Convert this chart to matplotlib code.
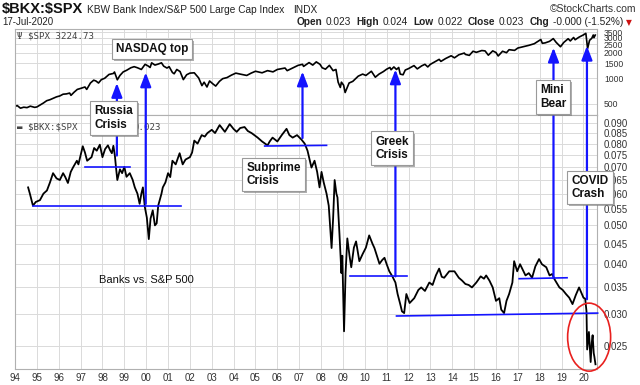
import matplotlib
matplotlib.use("Agg")
import matplotlib.pyplot as plt
import matplotlib.patheffects as pe
import matplotlib.transforms as mtransforms
from matplotlib.patches import ConnectionPatch, Ellipse
from matplotlib.text import Annotation
from matplotlib.ticker import FixedLocator, FixedFormatter, NullLocator

plt.rcParams['font.family'] = ['Liberation Sans', 'DejaVu Sans']
plt.rcParams['text.parse_math'] = False

# S&P 500 (год, значение)
spx_t = [1994.00, 1994.10, 1994.25, 1994.40, 1994.55, 1994.70, 1994.90, 1995.00, 1995.15, 1995.30,
         1995.45, 1995.60, 1995.75, 1995.90, 1996.05, 1996.20, 1996.35, 1996.50, 1996.56, 1996.70,
         1996.85, 1997.00, 1997.20, 1997.28, 1997.45, 1997.60, 1997.70, 1997.82, 1997.95, 1998.10,
         1998.30, 1998.50, 1998.55, 1998.68, 1998.80, 1998.95, 1999.10, 1999.30, 1999.45, 1999.60,
         1999.78, 1999.95, 2000.08, 2000.18, 2000.25, 2000.40, 2000.55, 2000.70, 2000.80, 2000.95,
         2001.05, 2001.20, 2001.28, 2001.40, 2001.55, 2001.70, 2001.85, 2002.00, 2002.20, 2002.40,
         2002.55, 2002.65, 2002.78, 2002.90, 2003.05, 2003.18, 2003.35, 2003.50, 2003.70, 2003.90,
         2004.10, 2004.30, 2004.60, 2004.80, 2005.00, 2005.30, 2005.55, 2005.80, 2006.00, 2006.35,
         2006.45, 2006.70, 2006.95, 2007.15, 2007.20, 2007.45, 2007.62, 2007.78, 2007.95, 2008.05,
         2008.20, 2008.38, 2008.55, 2008.68, 2008.78, 2008.88, 2008.93, 2009.03, 2009.10, 2009.28,
         2009.45, 2009.70, 2009.90, 2010.05, 2010.30, 2010.48, 2010.65, 2010.85, 2011.00, 2011.15,
         2011.20, 2011.33, 2011.45, 2011.55, 2011.62, 2011.75, 2011.85, 2012.00, 2012.25, 2012.40,
         2012.60, 2012.75, 2012.88, 2013.00, 2013.20, 2013.40, 2013.48, 2013.70, 2013.95, 2014.10,
         2014.30, 2014.55, 2014.60, 2014.78, 2014.95, 2015.10, 2015.35, 2015.50, 2015.65, 2015.85,
         2016.00, 2016.10, 2016.30, 2016.48, 2016.60, 2016.85, 2017.00, 2017.25, 2017.50, 2017.75,
         2018.05, 2018.12, 2018.25, 2018.45, 2018.62, 2018.75, 2018.95, 2019.10, 2019.30, 2019.40,
         2019.55, 2019.62, 2019.80, 2020.00, 2020.11, 2020.19, 2020.28, 2020.38, 2020.45, 2020.48,
         2020.54]
spx_v = [466, 478, 445, 457, 452, 470, 455, 460, 485, 512,
         545, 560, 582, 605, 620, 650, 655, 670, 630, 685,
         740, 760, 790, 740, 880, 950, 930, 880, 965, 1000,
         1110, 1140, 1185, 960, 1080, 1190, 1240, 1330, 1370, 1330,
         1270, 1460, 1400, 1340, 1520, 1430, 1470, 1520, 1390, 1320,
         1370, 1170, 1130, 1270, 1200, 965, 1100, 1150, 1160, 1010,
         820, 900, 790, 930, 860, 810, 920, 990, 1020, 1090,
         1150, 1120, 1080, 1150, 1210, 1160, 1230, 1190, 1270, 1320,
         1230, 1320, 1420, 1460, 1380, 1530, 1430, 1560, 1460, 1330,
         1280, 1420, 1230, 1270, 900, 780, 900, 830, 680, 880,
         920, 1060, 1120, 1080, 1210, 1030, 1120, 1200, 1280, 1340,
         1260, 1360, 1270, 1340, 1120, 1100, 1250, 1300, 1410, 1290,
         1400, 1460, 1360, 1460, 1560, 1670, 1580, 1710, 1840, 1740,
         1890, 1980, 1910, 1860, 2080, 2020, 2120, 2100, 1870, 2100,
         2010, 1830, 2080, 2000, 2170, 2130, 2270, 2350, 2440, 2550,
         2860, 2580, 2610, 2720, 2930, 2650, 2350, 2640, 2920, 2750,
         3020, 2840, 3050, 3240, 3380, 2240, 2800, 2950, 3230, 3000,
         3225]

# BKX / SPX
ratio_t = [1994.60, 1994.68, 1994.82, 1994.95, 1995.14, 1995.30, 1995.46, 1995.60, 1995.74, 1995.90,
           1996.05, 1996.20, 1996.30, 1996.42, 1996.55, 1996.65, 1996.83, 1996.90, 1997.10, 1997.20,
           1997.30, 1997.50, 1997.62, 1997.74, 1997.88, 1998.00, 1998.12, 1998.25, 1998.35, 1998.43,
           1998.50, 1998.57, 1998.62, 1998.68, 1998.80, 1998.90, 1999.00, 1999.10, 1999.25, 1999.38,
           1999.48, 1999.60, 1999.70, 1999.78, 1999.85, 1999.94, 2000.03, 2000.12, 2000.20, 2000.30,
           2000.40, 2000.48, 2000.55, 2000.62, 2000.70, 2000.76, 2000.88, 2001.00, 2001.10, 2001.20,
           2001.35, 2001.53, 2001.67, 2001.80, 2002.00, 2002.10, 2002.20, 2002.35, 2002.54, 2002.68,
           2002.80, 2003.00, 2003.15, 2003.36, 2003.60, 2003.82, 2004.00, 2004.14, 2004.30, 2004.50,
           2004.65, 2004.82, 2005.10, 2005.30, 2005.55, 2005.65, 2005.78, 2006.00, 2006.20, 2006.42,
           2006.55, 2006.70, 2006.90, 2007.10, 2007.25, 2007.38, 2007.56, 2007.70, 2007.82, 2007.93,
           2008.02, 2008.12, 2008.25, 2008.35, 2008.48, 2008.55, 2008.62, 2008.70, 2008.75, 2008.84,
           2008.93, 2008.97, 2009.05, 2009.12, 2009.20, 2009.30, 2009.38, 2009.50, 2009.60, 2009.75,
           2009.90, 2010.05, 2010.20, 2010.35, 2010.44, 2010.58, 2010.67, 2010.80, 2010.90, 2011.00,
           2011.12, 2011.26, 2011.40, 2011.50, 2011.62, 2011.70, 2011.80, 2011.90, 2012.05, 2012.26,
           2012.45, 2012.58, 2012.75, 2012.95, 2013.10, 2013.25, 2013.40, 2013.52, 2013.63, 2013.86,
           2014.10, 2014.30, 2014.45, 2014.60, 2014.75, 2014.90, 2015.10, 2015.30, 2015.45, 2015.55,
           2015.70, 2015.85, 2016.00, 2016.15, 2016.24, 2016.37, 2016.48, 2016.60, 2016.75, 2016.83,
           2016.97, 2017.10, 2017.20, 2017.35, 2017.50, 2017.65, 2017.80, 2017.97, 2018.10, 2018.30,
           2018.45, 2018.57, 2018.70, 2018.90, 2019.05, 2019.20, 2019.35, 2019.50, 2019.65, 2019.80,
           2019.90, 2020.00, 2020.08, 2020.14, 2020.17, 2020.25, 2020.33, 2020.38, 2020.42, 2020.47,
           2020.50, 2020.55]
ratio_v = [0.0622, 0.0600, 0.0560, 0.0572, 0.0578, 0.0600, 0.0611, 0.0640, 0.0675, 0.0655,
           0.0649, 0.0675, 0.0660, 0.0638, 0.0680, 0.0697, 0.0725, 0.0710, 0.0788, 0.0760,
           0.0725, 0.0740, 0.0780, 0.0768, 0.0795, 0.0740, 0.0775, 0.0792, 0.0770, 0.0757,
           0.0790, 0.0745, 0.0697, 0.0649, 0.0690, 0.0675, 0.0700, 0.0661, 0.0675, 0.0650,
           0.0622, 0.0600, 0.0566, 0.0600, 0.0622, 0.0555, 0.0523, 0.0462, 0.0520, 0.0545,
           0.0500, 0.0506, 0.0560, 0.0578, 0.0600, 0.0622, 0.0640, 0.0675, 0.0660, 0.0725,
           0.0710, 0.0757, 0.0710, 0.0730, 0.0740, 0.0760, 0.0814, 0.0800, 0.0840, 0.0833,
           0.0850, 0.0866, 0.0850, 0.0890, 0.0856, 0.0895, 0.0870, 0.0856, 0.0875, 0.0880,
           0.0860, 0.0850, 0.0828, 0.0810, 0.0792, 0.0810, 0.0828, 0.0810, 0.0840, 0.0871,
           0.0840, 0.0828, 0.0840, 0.0819, 0.0800, 0.0768, 0.0697, 0.0725, 0.0680, 0.0622,
           0.0680, 0.0640, 0.0600, 0.0560, 0.0439, 0.0520, 0.0649, 0.0600, 0.0587, 0.0476,
           0.0380, 0.0420, 0.0272, 0.0380, 0.0464, 0.0420, 0.0393, 0.0440, 0.0456, 0.0407,
           0.0424, 0.0440, 0.0472, 0.0450, 0.0439, 0.0415, 0.0401, 0.0410, 0.0415, 0.0400,
           0.0384, 0.0373, 0.0360, 0.0337, 0.0318, 0.0305, 0.0302, 0.0337, 0.0320, 0.0329,
           0.0345, 0.0350, 0.0343, 0.0360, 0.0355, 0.0375, 0.0390, 0.0372, 0.0370, 0.0384,
           0.0384, 0.0370, 0.0364, 0.0357, 0.0355, 0.0350, 0.0360, 0.0373, 0.0368, 0.0375,
           0.0364, 0.0350, 0.0324, 0.0329, 0.0308, 0.0302, 0.0324, 0.0337, 0.0360, 0.0407,
           0.0384, 0.0400, 0.0390, 0.0375, 0.0380, 0.0370, 0.0395, 0.0412, 0.0400, 0.0393,
           0.0375, 0.0378, 0.0365, 0.0350, 0.0345, 0.0337, 0.0330, 0.0318, 0.0335, 0.0350,
           0.0340, 0.0330, 0.0328, 0.0305, 0.0245, 0.0271, 0.0228, 0.0255, 0.0266, 0.0240,
           0.0235, 0.0225]

spx_ticks = [500, 1000, 1500, 2000, 2500, 3000, 3500]
ratio_ticks = [0.025, 0.030, 0.035, 0.040, 0.045, 0.050, 0.055, 0.060,
               0.065, 0.070, 0.075, 0.080, 0.085, 0.090]
years = list(range(1994, 2021))
year_labels = ['%02d' % (y % 100) for y in years]

# уровни поддержки: (начало, конец, уровень в начале, уровень в конце)
supports = [
    (1994.82, 2001.58, 0.0560, 0.0560),
    (1997.20, 1999.25, 0.0700, 0.0700),
    (2005.42, 2008.25, 0.0789, 0.0792),
    (2009.30, 2011.95, 0.0373, 0.0373),
    (2011.45, 2020.65, 0.0297, 0.0302),
    (2017.06, 2019.25, 0.0368, 0.0370),
]

# события: подпись, год стрелки, BKX/SPX у основания, SPX у острия,
#          положение подписи (год, панель, значение)
events = [
    ("Russia\nCrisis", 1998.66, 0.0747, 880, 1998.52, 'lo', 0.0926),
    ("NASDAQ top", 1999.98, 0.0566, 1170, 2000.26, 'hi', 2226),
    ("Subprime\nCrisis", 2007.15, 0.0826, 1200, 2005.83, 'lo', 0.0670),
    ("Greek\nCrisis", 2011.40, 0.0373, 1270, 2011.26, 'lo', 0.0779),
    ("Mini\nBear", 2018.63, 0.0369, 2290, 2018.61, 'hi', 603),
    ("COVID\nCrash", 2020.16, 0.0327, 2410, 2020.30, 'lo', 0.0622),
]

blue = '#1414ff'
grid_c = '#dadada'
spine_c = '#b0b0b0'
W, H = 640, 385

fig = plt.figure(figsize=(W / 100, H / 100), dpi=100)
x0, x1 = 15 / W, 597 / W
ax_hi = fig.add_axes([x0, 1 - 115 / H, x1 - x0, (115 - 29) / H])
ax_lo = fig.add_axes([x0, 1 - 369 / H, x1 - x0, (369 - 115) / H])

ax_hi.plot(spx_t, spx_v, color='black', lw=1.2)
ax_hi.set_yscale('log')
ax_hi.set_ylim(370, 3800)

ax_lo.plot(ratio_t, ratio_v, color='black', lw=1.3, zorder=3)
ax_lo.set_yscale('log')
ax_lo.set_ylim(0.0219, 0.0943)

for ax, ticks, fmt in [(ax_hi, spx_ticks, '%d'), (ax_lo, ratio_ticks, '%.3f')]:
    ax.set_xlim(1994.0, 2020.62)
    ax.xaxis.set_major_locator(FixedLocator(years))
    ax.yaxis.set_major_locator(FixedLocator(ticks))
    ax.yaxis.set_major_formatter(FixedFormatter([fmt % v for v in ticks]))
    ax.yaxis.set_minor_locator(NullLocator())
    ax.xaxis.set_minor_locator(NullLocator())
    ax.yaxis.tick_right()
    ax.tick_params(axis='both', length=0, labelsize=7, labelcolor='#333333')
    ax.tick_params(axis='y', pad=5)
    ax.grid(True, color=grid_c, lw=0.7)
    ax.set_axisbelow(True)
    for s in ax.spines.values():
        s.set_color(spine_c)
        s.set_linewidth(0.8)

ax_hi.tick_params(axis='x', labelbottom=False)
ax_hi.tick_params(axis='y', labelsize=6.2)
ax_lo.xaxis.set_major_formatter(FixedFormatter(year_labels))
ax_lo.tick_params(axis='x', pad=3)

# линии поддержки
for a, b, va, vb in supports:
    ax_lo.plot([a, b], [va, vb], color=blue, lw=1.2, zorder=4, clip_on=False)

# стрелки и подписи
for label, yr, r0, s1, lx, pan, lv in events:
    con = ConnectionPatch(xyA=(yr, r0), coordsA=ax_lo.transData,
                          xyB=(yr, s1), coordsB=ax_hi.transData,
                          arrowstyle='-|>,head_length=0.6,head_width=0.23',
                          mutation_scale=14, color=blue, lw=1.6, zorder=3)
    fig.add_artist(con)
    tax = ax_lo if pan == 'lo' else ax_hi
    t = fig.text(lx, lv, label, transform=tax.transData, zorder=5,
                 ha='center', va='center', multialignment='left',
                 fontsize=8.5, fontweight='bold', color='#111111',
                 linespacing=1.15,
                 bbox=dict(boxstyle='square,pad=0.35', fc='white',
                           ec='#9a9a9a', lw=0.8))
    t.get_bbox_patch().set_path_effects([
        pe.SimplePatchShadow(offset=(1.5, -1.5), shadow_rgbFace='#7a7a7a', alpha=0.6),
        pe.Normal()])

ax_lo.text(2000.0, 0.0365, "Banks vs. S&P 500", ha='center', va='center',
           fontsize=8, color='#111111')

# обвести падение 2020 года
ell_tr = fig.dpi_scale_trans + mtransforms.ScaledTranslation(2020.26, 0.0263, ax_lo.transData)
ax_lo.add_artist(Ellipse((0, 0), 0.43, 0.68, transform=ell_tr, fill=False,
                         ec='#e8201e', lw=1.2, clip_on=False, zorder=6))

# легенды внутри панелей
ax_hi.text(0.004, 0.97, "Ψ $SPX 3224.73", transform=ax_hi.transAxes, ha='left', va='top',
           family='DejaVu Sans Mono', fontsize=6.6, color='#444444')
lg = ax_lo.text(0.004, 0.97, "▬ $BKX:$SPX", transform=ax_lo.transAxes, ha='left', va='top',
                family='DejaVu Sans Mono', fontsize=6.6, color='#444444')
ax_lo.annotate("0.023", xy=(1, 0), xycoords=lg, xytext=(40, 0), textcoords='offset points',
               ha='left', va='bottom', family='DejaVu Sans Mono', fontsize=6.6, color='#444444')

# шапка
h1 = fig.text(2 / W, 1 - 16 / H, "$BKX:$SPX", ha='left', va='bottom',
              fontsize=10.5, fontweight='bold', color='#111111')
h2 = Annotation("KBW Bank Index/S&P 500 Large Cap Index", xy=(1, 0), xycoords=h1,
                xytext=(3, 1), textcoords='offset points', ha='left', va='bottom',
                fontsize=7.3, color='#222222')
fig.add_artist(h2)
h3 = Annotation("INDX", xy=(1, 0), xycoords=h2, xytext=(6, 0), textcoords='offset points',
                ha='left', va='bottom', fontsize=7.3, color='#222222')
fig.add_artist(h3)
fig.text(636 / W, 1 - 14 / H, "©StockCharts.com", ha='right', va='bottom',
         fontsize=7.5, color='#333333')
fig.text(2 / W, 1 - 27 / H, "17-Jul-2020", ha='left', va='bottom', fontsize=7, color='#222222')

quote = [("Open", True), ("0.023", False), ("High", True), ("0.024", False),
         ("Low", True), ("0.022", False), ("Close", True), ("0.023", False),
         ("Chg", True), ("-0.000 (-1.52%)", False)]
prev = fig.text(632 / W, 1 - 27 / H, "▼", ha='right', va='bottom', fontsize=5.5,
                color='#cc1111', family=['DejaVu Sans'])
for i, (s, bold) in enumerate(reversed(quote)):
    gap = -2 if i == 0 else (-2.5 if bold else -4)
    a = Annotation(s, xy=(0, 0), xycoords=prev, xytext=(gap, 0), textcoords='offset points',
                   ha='right', va='bottom', fontsize=7.3, color='#222222',
                   fontweight='bold' if bold else 'normal')
    fig.add_artist(a)
    prev = a

fig.savefig('out.png', dpi=100)
